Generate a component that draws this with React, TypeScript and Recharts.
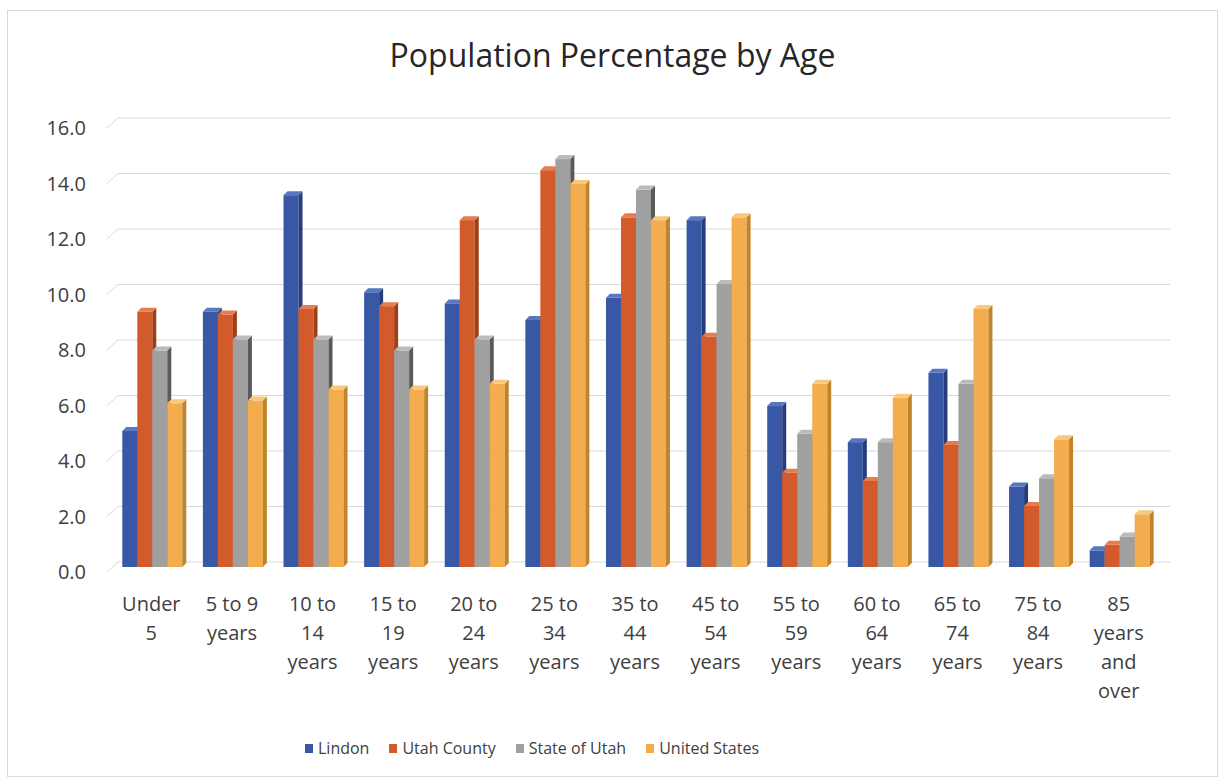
import React from "react";
import { BarChart, Bar, XAxis, YAxis, CartesianGrid } from "recharts";

const CATEGORIES = [
	"Under 5",
	"5 to 9 years",
	"10 to 14 years",
	"15 to 19 years",
	"20 to 24 years",
	"25 to 34 years",
	"35 to 44 years",
	"45 to 54 years",
	"55 to 59 years",
	"60 to 64 years",
	"65 to 74 years",
	"75 to 84 years",
	"85 years and over",
];

const LINDON = [4.9, 9.2, 13.4, 9.9, 9.5, 8.9, 9.7, 12.5, 5.8, 4.5, 7.0, 2.9, 0.6];
const UTAH_COUNTY = [9.2, 9.1, 9.3, 9.4, 12.5, 14.3, 12.6, 8.3, 3.4, 3.1, 4.4, 2.2, 0.8];
const STATE_OF_UTAH = [7.8, 8.2, 8.2, 7.8, 8.2, 14.7, 13.6, 10.2, 4.8, 4.5, 6.6, 3.2, 1.1];
const UNITED_STATES = [5.9, 6.0, 6.4, 6.4, 6.6, 13.8, 12.5, 12.6, 6.6, 6.1, 9.3, 4.6, 1.9];

const Y_TICKS = [0, 2, 4, 6, 8, 10, 12, 14, 16];

const SERIES = [
	{ key: "lindon", name: "Lindon", values: LINDON },
	{ key: "utahCounty", name: "Utah County", values: UTAH_COUNTY },
	{ key: "stateOfUtah", name: "State of Utah", values: STATE_OF_UTAH },
	{ key: "unitedStates", name: "United States", values: UNITED_STATES },
];

// front / side / top shades for the extruded bars
const SHADES: Record<string, { front: string; side: string; top: string }> = {
	lindon: { front: "#3858A6", side: "#253D7A", top: "#5877C0" },
	utahCounty: { front: "#D35A2A", side: "#9E3F18", top: "#E77C4E" },
	stateOfUtah: { front: "#A0A0A0", side: "#5A5A5A", top: "#BBBBBB" },
	unitedStates: { front: "#F3AD4F", side: "#C0852C", top: "#F8C97C" },
};

const FONT = "'Open Sans', 'DejaVu Sans', sans-serif";
const TEXT = "#404040";
const GRID = "#D9D9D9";
const DEPTH = 4;

const data = CATEGORIES.map((name, i) => {
	const row: Record<string, string | number> = { name };
	SERIES.forEach((s) => {
		row[s.key] = s.values[i];
	});
	return row;
});

// greedy word wrap, roughly what the axis does with narrow columns
function wrapLabel(label: string, maxChars = 6): string[] {
	const lines: string[] = [];
	let current = "";
	label.split(" ").forEach((word) => {
		const next = current ? `${current} ${word}` : word;
		if (next.length > maxChars && current) {
			lines.push(current);
			current = word;
		} else {
			current = next;
		}
	});
	if (current) lines.push(current);
	return lines;
}

function CategoryTick({ x, y, payload }: any) {
	const lines = wrapLabel(String(payload.value));
	return (
		<text x={x} y={y + 29} textAnchor="middle" fill={TEXT} fontSize={20} fontFamily={FONT}>
			{lines.map((line, i) => (
				<tspan key={i} x={x} dy={i === 0 ? "0.35em" : 29}>
					{line}
				</tspan>
			))}
		</text>
	);
}

function ValueTick({ y, payload }: any) {
	return (
		<text x={86} y={y + 5} dy="0.35em" textAnchor="end" fill={TEXT} fontSize={20} fontFamily={FONT}>
			{Number(payload.value).toFixed(1)}
		</text>
	);
}

function GridLine(props: any) {
	const { x1, x2, y1, key } = props;
	const back = y1 - 5;
	return (
		<g key={key}>
			<line x1={x1 - 4} y1={y1 + 5} x2={x1 + 7} y2={back} stroke={GRID} strokeWidth={1} />
			<line x1={x1 + 7} y1={back} x2={x2 + 11} y2={back} stroke={GRID} strokeWidth={1} />
		</g>
	);
}

function makeBarShape(seriesKey: string) {
	const shade = SHADES[seriesKey];
	return function Bar3D(props: any) {
		const { x, y, width, height } = props;
		if (!height || height <= 0) return null;
		const d = DEPTH;
		return (
			<g>
				<rect x={x} y={y} width={width} height={height} fill={shade.front} />
				<polygon
					points={`${x + width},${y} ${x + width + d},${y - d} ${x + width + d},${y + height - d} ${x + width},${y + height}`}
					fill={shade.side}
				/>
				<polygon
					points={`${x},${y} ${x + d},${y - d} ${x + width + d},${y - d} ${x + width},${y}`}
					fill={shade.top}
				/>
			</g>
		);
	};
}

export default function App() {
	return (
		<div
			style={{
				position: "absolute",
				left: 0,
				top: 0,
				width: 1223,
				height: 782,
				background: "#FFFFFF",
				fontFamily: FONT,
			}}
		>
			<div
				style={{
					position: "absolute",
					left: 7,
					top: 10,
					width: 1211,
					height: 767,
					border: `1px solid ${GRID}`,
					boxSizing: "border-box",
				}}
			/>
			<div
				style={{
					position: "absolute",
					left: 0,
					width: 1225,
					top: 34,
					textAlign: "center",
					fontSize: 32,
					lineHeight: "42px",
					color: "#262626",
				}}
			>
				Population Percentage by Age
			</div>
			<div style={{ position: "absolute", left: 0, top: 0 }}>
				<BarChart
					width={1223}
					height={782}
					data={data}
					margin={{ top: 123, right: 64, bottom: 0, left: 11 }}
					barCategoryGap="14%"
					barGap={0}
				>
					<CartesianGrid vertical={false} horizontal={GridLine} />
					<XAxis
						dataKey="name"
						interval={0}
						height={215}
						axisLine={false}
						tickLine={false}
						tick={<CategoryTick />}
					/>
					<YAxis
						width={100}
						domain={[0, 16]}
						ticks={Y_TICKS}
						axisLine={false}
						tickLine={false}
						tick={<ValueTick />}
					/>
					{SERIES.map((s) => (
						<Bar
							key={s.key}
							dataKey={s.key}
							name={s.name}
							fill={SHADES[s.key].front}
							shape={makeBarShape(s.key)}
							isAnimationActive={false}
						/>
					))}
				</BarChart>
			</div>
			<div
				style={{
					position: "absolute",
					left: 305,
					top: 736,
					display: "flex",
					alignItems: "center",
					fontSize: 16,
					lineHeight: "24px",
					color: TEXT,
				}}
			>
				{SERIES.map((s) => (
					<span key={s.key} style={{ display: "flex", alignItems: "center", marginRight: 20 }}>
						<span
							style={{
								display: "inline-block",
								width: 8,
								height: 9,
								background: SHADES[s.key].front,
								marginRight: 5,
							}}
						/>
						{s.name}
					</span>
				))}
			</div>
		</div>
	);
}
